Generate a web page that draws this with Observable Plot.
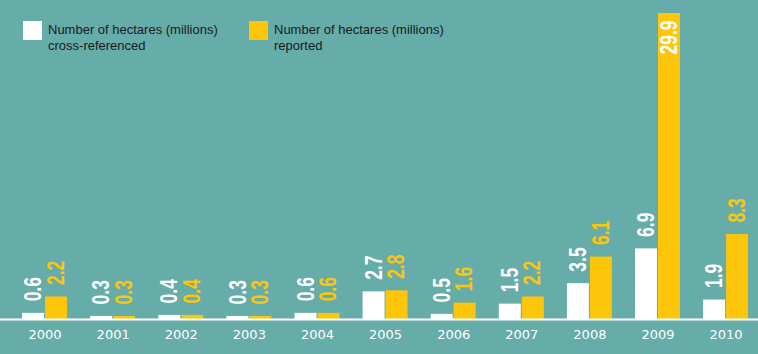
<!DOCTYPE html>
<html>
<head>
<meta charset="utf-8">
<script src="https://cdn.jsdelivr.net/npm/d3@7"></script>
<script src="https://cdn.jsdelivr.net/npm/@observablehq/plot@0.6"></script>
<style>
  html, body { margin: 0; padding: 0; background: #66aca9; }
  #wrap { position: relative; width: 758px; height: 354px; overflow: hidden; }
  #legend { position: absolute; left: 0; top: 0; width: 758px; height: 70px;
            font-family: "Liberation Sans", Arial, sans-serif; font-size: 13px;
            line-height: 16px; color: #1b1b1b; pointer-events: none; }
  .sw { position: absolute; width: 19px; height: 19px; }
  .lt { position: absolute; white-space: nowrap; }
</style>
</head>
<body>
<div id="wrap"><div id="chart"></div><div id="legend"></div></div>
<script>
// ---- data ----
const years = ["2000", "2001", "2002", "2003", "2004", "2005", "2006", "2007", "2008", "2009", "2010"];
const crossReferenced = [0.6, 0.3, 0.4, 0.3, 0.6, 2.7, 0.5, 1.5, 3.5, 6.9, 1.9];
const reported = [2.2, 0.3, 0.4, 0.3, 0.6, 2.8, 1.6, 2.2, 6.1, 29.9, 8.3];
const legendLabels = [
  ["Number of hectares (millions)", "cross-referenced"],
  ["Number of hectares (millions)", "reported"]
];

// ---- styles ----
const BG = "#66aca9";
const WHITE = "#ffffff";
const ORANGE = "#fdc60b";
const LABEL_FONT = "'Liberation Sans', Arial, sans-serif";
const AXIS_FONT = "'DejaVu Sans', Verdana, sans-serif";

const rowsC = years.map((year, i) => ({year, value: crossReferenced[i]}));
const rowsR = years.map((year, i) => ({year, value: reported[i]}));
const maxR = d3.max(reported);
const rowsRAbove = rowsR.filter(d => d.value < maxR);
const rowsRInside = rowsR.filter(d => d.value >= maxR);
const fmt = d3.format(".1f");

function build(bw) {
  const half = bw / 2;
  const labelOpts = {
    x: "year", y: "value", text: d => fmt(d.value), rotate: -90,
    fontSize: 23, fontWeight: "bold", fontFamily: LABEL_FONT
  };
  return Plot.plot({
    width: 758, height: 354,
    marginTop: 13, marginBottom: 35, marginLeft: 0, marginRight: 0,
    style: {background: BG, color: "white", fontFamily: AXIS_FONT, fontSize: "13px", overflow: "visible"},
    x: {type: "band", domain: years, paddingInner: 0.34, paddingOuter: 0.235, align: 0.69, round: false,
        tickSize: 0, tickPadding: 10, label: null},
    y: {domain: [0, maxR], axis: null},
    marks: [
      Plot.barY(rowsC, {x: "year", y: "value", fill: WHITE, insetLeft: 0, insetRight: half + 0.5}),
      Plot.barY(rowsR, {x: "year", y: "value", fill: ORANGE, insetLeft: half + 0.5, insetRight: 0}),
      Plot.ruleY([0], {stroke: WHITE, strokeWidth: 2}),
      Plot.text(rowsC, {...labelOpts, textAnchor: "start", dy: -12, dx: -bw / 4, fill: WHITE}),
      Plot.text(rowsRAbove, {...labelOpts, textAnchor: "start", dy: -12, dx: bw / 4, fill: ORANGE}),
      Plot.text(rowsRInside, {...labelOpts, textAnchor: "end", dy: 7, dx: bw / 4, fill: WHITE})
    ]
  });
}

let plot = build(45);
const bw = plot.scale("x").bandwidth;
plot = build(bw);
plot.querySelectorAll('text[transform*="rotate"]').forEach(t => {
  t.setAttribute("transform", t.getAttribute("transform") + " scale(0.76,1)");
});
document.getElementById("chart").appendChild(plot);

// ---- legend ----
const legend = document.getElementById("legend");
const legendPos = [{sx: 23, tx: 48}, {sx: 249, tx: 274}];
const legendColors = [WHITE, ORANGE];
legendLabels.forEach((lines, i) => {
  const sw = document.createElement("div");
  sw.className = "sw";
  sw.style.left = legendPos[i].sx + "px";
  sw.style.top = "21px";
  sw.style.background = legendColors[i];
  legend.appendChild(sw);
  const t = document.createElement("div");
  t.className = "lt";
  t.style.left = legendPos[i].tx + "px";
  t.style.top = "22px";
  t.innerHTML = lines.join("<br>");
  legend.appendChild(t);
});
</script>
</body>
</html>
